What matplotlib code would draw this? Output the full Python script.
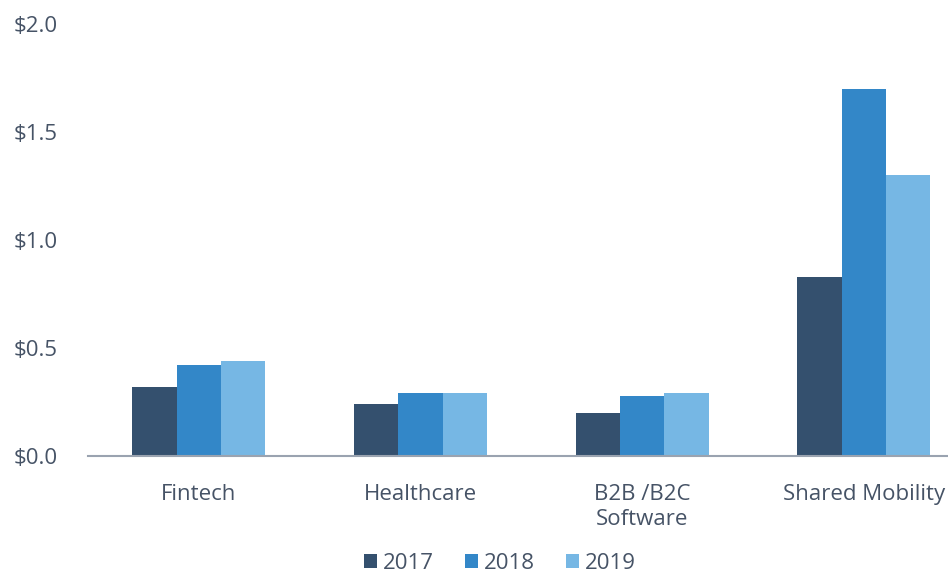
import matplotlib.pyplot as plt
import numpy as np

plt.rcParams['font.family'] = ['Open Sans', 'DejaVu Sans']

categories = ["Fintech", "Healthcare", "B2B /B2C\nSoftware", "Shared Mobility"]
years = ["2017", "2018", "2019"]
vals_2017 = [0.32, 0.24, 0.20, 0.83]
vals_2018 = [0.42, 0.29, 0.28, 1.70]
vals_2019 = [0.44, 0.29, 0.29, 1.30]

colors = ["#34506e", "#3387c8", "#76b7e4"]
text_color = "#465366"

fig = plt.figure(figsize=(9.48, 5.74), dpi=100)
ax = fig.add_axes([0.093, 0.2056, 0.907, 0.7524])

x = np.arange(len(categories))
w = 0.2
for i, (vals, yr) in enumerate(zip([vals_2017, vals_2018, vals_2019], years)):
    ax.bar(x + (i - 1) * w, vals, w, color=colors[i], label=yr, zorder=2)

ax.set_xlim(-0.5, 3.38)
ax.set_ylim(0, 2.0)
ax.set_yticks([0, 0.5, 1.0, 1.5, 2.0])
ax.set_yticklabels(["$%.1f" % v for v in [0, 0.5, 1.0, 1.5, 2.0]])
ax.set_xticks(x, labels=categories)

for s in ["top", "right", "left"]:
    ax.spines[s].set_visible(False)
ax.spines["bottom"].set_color("#9aa3b0")
ax.spines["bottom"].set_linewidth(1.5)
ax.spines["bottom"].set_zorder(3)

ax.tick_params(axis="y", length=0, pad=22, labelsize=16, labelcolor=text_color)
ax.tick_params(axis="x", length=0, pad=20, labelsize=16, labelcolor=text_color)
for lab in ax.get_yticklabels():
    lab.set_horizontalalignment("right")
for lab in ax.get_xticklabels():
    lab.set_linespacing(1.25)

fig.legend(loc="center", bbox_to_anchor=(0.527, 0.019), ncol=3, frameon=False,
           fontsize=16, labelcolor=text_color, handlelength=0.6,
           handleheight=0.6, handletextpad=0.25, columnspacing=1.4,
           borderaxespad=0)

fig.savefig("out.png", dpi=100)
